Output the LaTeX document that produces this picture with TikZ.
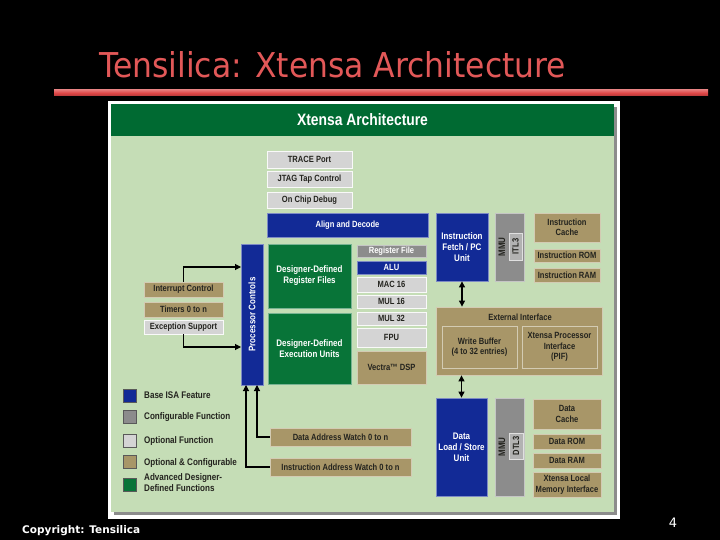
\documentclass[tikz,border=0pt]{standalone}
\usepackage{fontspec}
\setmainfont{Liberation Sans}
\newfontfamily\dg[FakeStretch=0.84]{Liberation Sans}
\newfontfamily\ttl{DejaVu Sans}
\usetikzlibrary{arrows.meta,calc}
\definecolor{panel}{RGB}{197,221,182}
\definecolor{hdr}{RGB}{0,106,50}
\definecolor{dblue}{RGB}{18,42,150}
\definecolor{tanc}{RGB}{168,150,104}
\definecolor{lgray}{RGB}{212,212,212}
\definecolor{mgray}{RGB}{140,140,140}
\definecolor{dgreen}{RGB}{8,116,56}
\definecolor{ttlred}{RGB}{226,88,88}
\definecolor{barred}{RGB}{222,70,70}
\definecolor{txt}{RGB}{35,35,30}
\begin{document}
\begin{tikzpicture}[x=1pt,y=-1pt,
  blk/.style={rectangle,inner sep=0pt,align=center,font=\dg\bfseries\fontsize{9}{10.5}\selectfont,line width=0.8pt},
  tanbox/.style={blk,fill=tanc,draw=tanc!50!white,text=txt},
  graybox/.style={blk,fill=lgray,draw=white!85!lgray,text=txt},
  bluebox/.style={blk,fill=dblue,draw=dblue!55!white,text=white},
  greenbox/.style={blk,fill=dgreen,draw=dgreen!55!white,text=white},
  mgraybox/.style={blk,fill=mgray,draw=mgray!50!white,text=white},
  sz/.style 2 args={minimum width=#1pt,minimum height=#2pt},
  conn/.style={line width=1.1pt,-{Triangle[length=6pt,width=6pt]}},
  dconn/.style={line width=1.1pt,{Triangle[length=6pt,width=6pt]}-{Triangle[length=6pt,width=6pt]}},
  legsq/.style={rectangle,minimum size=13pt,inner sep=0pt,draw=black!65,line width=0.6pt},
  legtxt/.style={anchor=west,inner sep=0pt,align=left,text=txt,font=\dg\bfseries\fontsize{9.6}{11}\selectfont}]
\fill[black] (0,0) rectangle (720,540);
\useasboundingbox (0,0) rectangle (720,540);
% title
\node[anchor=base west,inner sep=0pt,text=ttlred] (title) at (99,78) {\resizebox{467pt}{26pt}{\ttl Tensilica: Xtensa Architecture}};
\shade[top color=barred!75!white,bottom color=barred!80!black,middle color=barred] (54,90) rectangle (708,96);
% frame and panel
\fill[white] (108,101) rectangle (620,519);
\fill[black!45] (114,107) rectangle (617,515);
\fill[panel] (111,104) rectangle (614,512);
\node[fill=hdr,inner sep=0pt,minimum width=503pt,minimum height=32pt,text=white,font=\dg\bfseries\fontsize{16.5}{18}\selectfont] (hdr) at (362.5,120) {Xtensa Architecture};
% debug column
\node[graybox,sz={85}{17}] (trace) at (309.5,159.5) {TRACE Port};
\node[graybox,sz={85}{16}] (jtag) at (309.5,179) {JTAG Tap Control};
\node[graybox,sz={85}{16}] (ocd) at (309.5,200) {On Chip Debug};
\node[bluebox,sz={161}{24}] (align) at (347.5,225) {Align and Decode};
% instruction side
\node[bluebox,sz={52}{68},font=\dg\bfseries\fontsize{9.5}{11}\selectfont] (ifetch) at (462,247) {Instruction\\Fetch / PC\\Unit};
\node[mgraybox,sz={29}{68}] (immu) at (509.5,247) {};
\node[blk,text=txt,rotate=90,font=\dg\bfseries\fontsize{9.5}{10}\selectfont] (immut) at (502,247) {MMU};
\node[graybox,fill=black!30,draw=black!12,sz={27}{13},rotate=90] (itl3) at (515.5,246.5) {ITL3};
\node[tanbox,sz={66}{29}] (icache) at (567,227.5) {Instruction\\Cache};
\node[tanbox,sz={66}{13}] (irom) at (567,255.5) {Instruction ROM};
\node[tanbox,sz={66}{14}] (iram) at (567,275) {Instruction RAM};
% processor controls and designer blocks
\node[bluebox,sz={141}{22},rotate=90,font=\dg\bfseries\fontsize{9.5}{10}\selectfont] (pc) at (252,314.5) {Processor Controls};
\node[greenbox,sz={83}{64},font=\dg\bfseries\fontsize{9.5}{11}\selectfont] (ddrf) at (309.5,276) {Designer-Defined\\Register Files};
\node[greenbox,sz={83}{71},font=\dg\bfseries\fontsize{9.5}{11}\selectfont] (ddeu) at (309.5,348.5) {Designer-Defined\\Execution Units};
\node[mgraybox,sz={69}{12}] (regf) at (391.5,251) {Register File};
\node[bluebox,sz={69}{13}] (alu) at (391.5,267.5) {ALU};
\node[graybox,sz={69}{15}] (mac16) at (391.5,284.5) {MAC 16};
\node[graybox,sz={69}{13}] (mul16) at (391.5,301.5) {MUL 16};
\node[graybox,sz={69}{13}] (mul32) at (391.5,318.5) {MUL 32};
\node[graybox,sz={69}{19}] (fpu) at (391.5,337.5) {FPU};
\node[tanbox,sz={69}{33}] (vectra) at (391.5,367.5) {Vectra\texttrademark\ DSP};
% interrupts
\node[tanbox,sz={79}{15}] (intc) at (183.5,289.5) {Interrupt Control};
\node[tanbox,sz={79}{15}] (timers) at (183.5,309.5) {Timers 0 to n};
\node[graybox,sz={79}{14}] (excs) at (183.5,327) {Exception Support};
% external interface
\node[tanbox,sz={166}{68}] (extif) at (519,341) {};
\node[blk,text=txt] (extlbl) at (520,317) {External Interface};
\node[tanbox,sz={75}{42}] (wbuf) at (479.5,347) {Write Buffer\\(4 to 32 entries)};
\node[tanbox,sz={75}{42}] (pif) at (559.5,347) {Xtensa Processor\\Interface\\(PIF)};
% data side
\node[bluebox,sz={51}{98},font=\dg\bfseries\fontsize{9.5}{11}\selectfont] (dlsu) at (461.5,447) {Data\\Load / Store\\Unit};
\node[mgraybox,sz={29}{98}] (dmmu) at (509.5,447) {};
\node[blk,text=txt,rotate=90,font=\dg\bfseries\fontsize{9.5}{10}\selectfont] (dmmut) at (502,447) {MMU};
\node[graybox,fill=black!30,draw=black!12,sz={26}{14},rotate=90] (dtl3) at (516,446) {DTL3};
\node[tanbox,sz={68}{30}] (dcache) at (567,414) {Data\\Cache};
\node[tanbox,sz={68}{15}] (drom) at (567,441.5) {Data ROM};
\node[tanbox,sz={68}{15}] (dram) at (567,460.5) {Data RAM};
\node[tanbox,sz={68}{25}] (xlmi) at (567,484.5) {Xtensa Local\\Memory Interface};
% watch units
\node[tanbox,sz={141}{18}] (daw) at (340.5,437) {Data Address Watch 0 to n};
\node[tanbox,sz={141}{18}] (iaw) at (340.5,467) {Instruction Address Watch 0 to n};
% connectors
\coordinate (pcin1) at (241,267);
\coordinate (pcin2) at (241,347);
\coordinate (pcb1) at (246,385);
\coordinate (pcb2) at (257,385);
\draw[conn] (intc.north) |- (pcin1);
\draw[conn] (excs.south) |- (pcin2);
\draw[conn] (iaw.west) -| (pcb1);
\draw[conn] (daw.west) -| (pcb2);
\draw[dconn] (ifetch.south) -- (ifetch.south |- extif.north);
\draw[dconn] (dlsu.north |- extif.south) -- (dlsu.north);
% legend
\node[legsq,fill=dblue] (lg1) at (130,395.5) {};
\node[legsq,fill=mgray] (lg2) at (130,417) {};
\node[legsq,fill=lgray] (lg3) at (130,440.5) {};
\node[legsq,fill=tanc] (lg4) at (130,462) {};
\node[legsq,fill=dgreen] (lg5) at (130,484.5) {};
\node[legtxt] (lt1) at (144,395) {Base ISA Feature};
\node[legtxt] (lt2) at (144,417) {Configurable Function};
\node[legtxt] (lt3) at (144,441) {Optional Function};
\node[legtxt] (lt4) at (144,463) {Optional \& Configurable};
\node[legtxt] (lt5) at (144,483) {Advanced Designer-\\Defined Functions};
% footer
\node[anchor=base west,inner sep=0pt,text=white] (copy) at (22,533) {\resizebox{118pt}{!}{\ttl\bfseries Copyright: Tensilica}};
\node[text=white,inner sep=0pt,font=\ttl\fontsize{13}{15}\selectfont] (pg) at (673,523) {4};
\end{tikzpicture}
\end{document}
